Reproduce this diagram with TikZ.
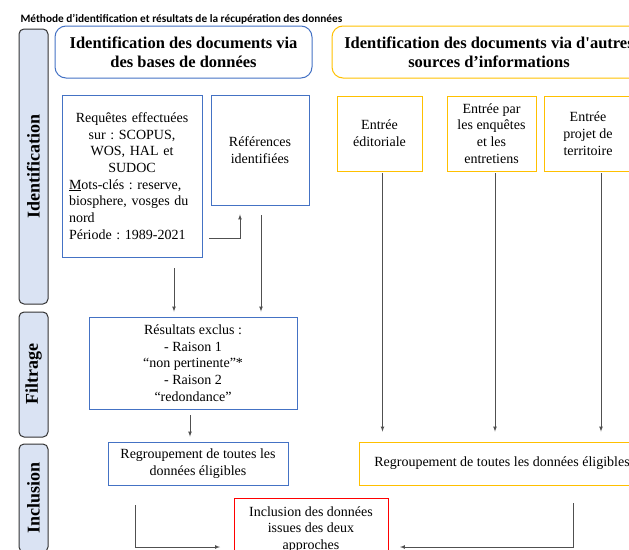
\documentclass[tikz,border=0pt]{standalone}
\usepackage{fontspec}
\setmainfont{Liberation Serif}[Ligatures=TeXOff]
\newfontfamily\titrefont{Carlito}
\usepackage{tikz}
\usetikzlibrary{positioning,arrows,calc}
\frenchspacing

\definecolor{bleu}{RGB}{68,114,196}
\definecolor{jaune}{RGB}{255,192,0}
\definecolor{rouge}{RGB}{255,0,0}
\definecolor{fondbarre}{RGB}{218,227,243}
\definecolor{trait}{RGB}{80,80,80}

\tikzset{
  barre/.style={draw=black!80, fill=fondbarre, line width=1pt, rounded corners=5pt,
    rotate=90, minimum height=29pt, inner sep=0pt,
    font=\fontsize{18}{20}\selectfont\bfseries},
  entete/.style={rounded corners=11pt, line width=1pt, align=center, minimum height=52pt,
    font=\fontsize{16.5}{19}\selectfont\bfseries},
  boite/.style={line width=0.9pt, align=center, inner sep=4pt,
    font=\fontsize{14}{16.7}\selectfont},
  bleue/.style={boite, draw=bleu},
  jaunebox/.style={boite, draw=jaune},
  rougebox/.style={boite, draw=rouge},
  fleche/.style={->, >=latex, draw=trait, line width=0.7pt},
}

\begin{document}
\begin{tikzpicture}[x=1pt,y=-1pt]

  \useasboundingbox (0,0) rectangle (629,549);
  \clip (0,0) rectangle (629,549);

  \node[anchor=west, font=\titrefont\bfseries\fontsize{11.3}{13}\selectfont] (titre) at (17,19)
    {Méthode d’identification et résultats de la récupération des données};

  % barres laterales
  \node[barre, minimum width=275pt] (bident) at (33.5,166.5) {Identification};
  \node[barre, minimum width=125pt] (bfiltre) at (33.5,374.5) {Filtrage};
  \node[barre, minimum width=108pt] (bincl) at (33.5,498) {Inclusion};

  % en-tetes
  \node[entete, draw=bleu, minimum width=257pt] (hbases) at (183.5,52)
    {Identification des documents via\\des bases de données};
  \node[entete, draw=jaune, minimum width=314pt] (hautres) at (489,52)
    {Identification des documents via d'autres\\sources d’informations};

  % bases de donnees
  \node[bleue, minimum width=140pt, minimum height=162pt, text width=126pt, align=left] (req) at (132,176)
    {\centering Requêtes effectuées\\sur : SCOPUS,\\WOS, HAL et\\SUDOC\par
     \raggedright\underline{M}ots-clés : reserve,\\biosphere, vosges du\\nord\\Période : 1989-2021};
  \node[bleue, minimum width=98pt, minimum height=110pt] (ref) at (260,150)
    {Références\\identifiées};
  \node[bleue, minimum width=208pt, minimum height=92pt] (filt) at (193,363)
    {Résultats exclus :\\- Raison 1\\“non pertinente”*\\- Raison 2\\“redondance”};
  \node[bleue, minimum width=180pt, minimum height=43pt] (regG) at (198,463.5)
    {Regroupement de toutes les\\données éligibles};

  % autres sources
  \node[jaunebox, minimum width=85pt, minimum height=75pt] (edit) at (379.5,133.5)
    {Entrée\\éditoriale};
  \node[jaunebox, minimum width=89pt, minimum height=75pt] (enq) at (491.5,133.5)
    {Entrée par\\les enquêtes\\et les\\entretiens};
  \node[jaunebox, minimum width=88pt, minimum height=75pt] (terr) at (588,133.5)
    {Entrée\\projet de\\territoire};
  \node[jaunebox, minimum width=286pt, minimum height=43pt] (regD) at (502,463.5)
    {Regroupement de toutes les données éligibles};

  % inclusion
  \node[rougebox, minimum width=154pt, anchor=north, inner xsep=5pt, inner ysep=8pt] (incl) at (311,498)
    {Inclusion des données\\issues des deux\\approches};
  \coordinate (inclG) at (220,547);
  \coordinate (inclD) at (400,547);

  % fleches
  \draw[fleche] ([shift={(7,62)}]req.east) -| ([shift={(-20,9)}]ref.south);
  \draw[fleche] ([shift={(42,11)}]req.south) -- ([shift={(-19,-5)}]filt.north);
  \draw[fleche] ([shift={(1,10)}]ref.south) -- ([shift={(68,-5)}]filt.north);
  \draw[fleche] ([shift={(-3,6)}]filt.south) -- ([shift={(-8,-5)}]regG.north);
  \draw[fleche] ([shift={(3,2)}]edit.south) -- ([shift={(-119.5,-10)}]regD.north);
  \draw[fleche] ([shift={(3.5,2)}]enq.south) -- ([shift={(-7,-10)}]regD.north);
  \draw[fleche] ([shift={(13,2)}]terr.south) -- ([shift={(99,-10)}]regD.north);
  \draw[fleche] ([shift={(-63,20)}]regG.south) |- (inclG);
  \draw[fleche] ([shift={(71,18)}]regD.south) |- (inclD);

\end{tikzpicture}
\end{document}
